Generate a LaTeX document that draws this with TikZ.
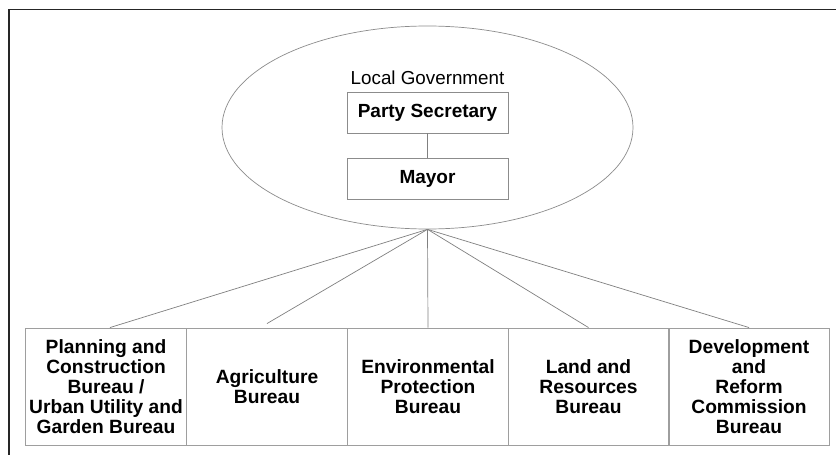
\documentclass[tikz,border=0pt]{standalone}
\usepackage{fontspec}
\setmainfont{Liberation Sans}
\usetikzlibrary{shapes.geometric}
\begin{document}
\begin{tikzpicture}[x=1pt,y=-1pt,
  txt/.style={font=\fontsize{18.8}{20}\selectfont},
  bureau/.style={draw=black!38, line width=0.9pt, minimum width=161pt, minimum height=117pt, inner sep=0pt, align=center, font=\fontsize{19.2}{20}\selectfont\bfseries},
  govbox/.style={draw=black!45, line width=0.8pt, minimum width=161pt, minimum height=41pt, inner sep=0pt, font=\fontsize{19}{20}\selectfont\bfseries},
  link/.style={draw=black!50, line width=0.7pt}]
\useasboundingbox (0,0) rectangle (836,455);
\fill[white] (0,0) rectangle (836,455);
\draw[black!85, line width=1.6pt] (9,455) -- (9,9.5) -- (836,9.5);
\node[ellipse, draw=black!45, line width=0.7pt, minimum width=411pt, minimum height=203pt, inner sep=0pt] (gov) at (427.5,127.5) {};
\node[txt] (lg) at (427.5,78) {Local Government};
\node[govbox] (party) at (427.5,112.5) {Party Secretary};
\node[govbox] (mayor) at (427.5,179) {Mayor};
\draw[link] (party) -- (mayor);
\node[bureau] (b1) at (106,386.5) {Planning and\\Construction\\Bureau /\\Urban Utility and\\Garden Bureau};
\node[bureau] (b2) at (267,386.5) {Agriculture\\Bureau};
\node[bureau] (b3) at (428,386.5) {Environmental\\Protection\\Bureau};
\node[bureau] (b4) at (588.5,386.5) {Land and\\Resources\\Bureau};
\node[bureau] (b5) at (749,386.5) {Development\\and\\Reform\\Commission\\Bureau};
\coordinate (apex) at (gov.south);
\draw[link] (apex) -- ([xshift=4pt]b1.north);
\draw[link] (apex) -- ([yshift=4pt]b2.north);
\draw[link] (apex) -- (b3.north);
\draw[link] (apex) -- (b4.north);
\draw[link] (apex) -- (b5.north);
\end{tikzpicture}
\end{document}
